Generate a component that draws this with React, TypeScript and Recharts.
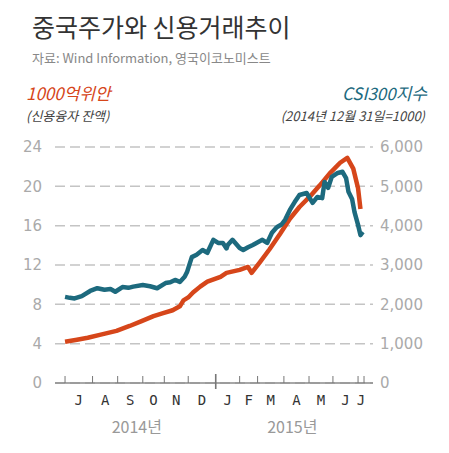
import React from "react";
import { LineChart, Line, XAxis, YAxis, CartesianGrid } from "recharts";

// Trading-day index (0 = 1 Jul 2014) of each month's first trading day
const monthStarts = [0, 23, 44, 65, 83, 103, 126, 146, 161, 183, 204, 224, 245, 250];
const monthLetters = ["J", "A", "S", "O", "N", "D", "J", "F", "M", "A", "M", "J", "J"];
const yearBoundary = 126;
const yearPos = [60, 190];
const yearLabels = ["2014년", "2015년"];

const leftTicks = [0, 4, 8, 12, 16, 20, 24];
const rightTicks = [0, 1000, 2000, 3000, 4000, 5000, 6000];

// Margin lending balance (1000억 위안)
const creditX = [0, 10, 19, 29, 43, 54, 64, 74, 82, 90, 96, 99, 103, 107, 113, 119, 130, 135, 146, 153, 156, 163, 171, 180, 188, 196, 205, 213, 222, 230, 236, 241, 245, 247];
const creditY = [4.2, 4.4, 4.6, 4.9, 5.3, 5.8, 6.3, 6.8, 7.1, 7.4, 7.8, 8.4, 8.7, 9.2, 9.8, 10.3, 10.8, 11.2, 11.5, 11.8, 11.2, 12.3, 13.6, 15.2, 16.7, 17.9, 19.0, 20.1, 21.4, 22.4, 22.9, 21.8, 19.8, 17.7];

// CSI300 index (2014-12-31 = 1000 basis as labelled)
const csiX = [0, 4, 8, 14, 21, 27, 33, 38, 42, 48, 53, 57, 65, 71, 77, 84, 88, 92, 96, 100, 102, 106, 110, 115, 119, 124, 128, 132, 135, 136, 140, 146, 149, 153, 157, 165, 169, 173, 177, 181, 184, 188, 192, 196, 202, 207, 211, 215, 217, 220, 223, 228, 232, 235, 237, 240, 242, 245, 247, 249];
const csiY = [2190, 2165, 2150, 2210, 2340, 2410, 2370, 2390, 2320, 2440, 2420, 2450, 2490, 2460, 2410, 2540, 2560, 2620, 2570, 2700, 2820, 3200, 3260, 3380, 3310, 3640, 3560, 3560, 3420, 3510, 3640, 3430, 3380, 3450, 3510, 3640, 3560, 3820, 3960, 4030, 4150, 4400, 4600, 4780, 4830, 4580, 4730, 4700, 5110, 4960, 5240, 5340, 5370, 5210, 4860, 4680, 4350, 4020, 3760, 3840];

const creditData = creditX.map((x, i) => ({ x, v: creditY[i] }));
const csiData = csiX.map((x, i) => ({ x, v: csiY[i] }));

const monthMids = monthLetters.map((_, i) => (monthStarts[i] + monthStarts[i + 1]) / 2);

type TickInfo = { kind: "tick" | "month" | "year"; text?: string; big?: boolean };
const tickInfo = new Map<number, TickInfo>();
monthStarts.forEach((v) => tickInfo.set(v, { kind: "tick", big: v === yearBoundary }));
monthMids.forEach((v, i) => tickInfo.set(v, { kind: "month", text: monthLetters[i] }));
yearPos.forEach((v, i) => tickInfo.set(v, { kind: "year", text: yearLabels[i] }));
const allTicks = [...monthStarts, ...monthMids, ...yearPos].sort((a, b) => a - b);

const RED = "#d6461a";
const TEAL = "#1d6a7e";
const KR = "'Noto Sans CJK KR', 'Noto Sans', sans-serif";

function AxisTick(props: any) {
  const { x, y, payload } = props;
  const info = tickInfo.get(payload.value);
  if (!info) return null;
  if (info.kind === "tick") {
    return info.big ? (
      <line x1={x} x2={x} y1={y - 9} y2={y + 6} stroke="#777" strokeWidth={1.6} />
    ) : (
      <line x1={x} x2={x} y1={y - 7} y2={y} stroke="#777" strokeWidth={1} />
    );
  }
  if (info.kind === "month") {
    return (
      <text x={x} y={y + 22} textAnchor="middle" fontSize={14} fill="#333" fontFamily="'DejaVu Sans Mono', monospace">
        {info.text}
      </text>
    );
  }
  return (
    <text x={x} y={y + 50} textAnchor="middle" fontSize={16} fill="#999" fontFamily={KR}>
      {info.text}
    </text>
  );
}

const fmt = (v: number) => v.toLocaleString("en-US");

export default function App() {
  return (
    <div style={{ position: "relative", width: 441, height: 437 }}>
      <svg width={441} height={140} style={{ position: "absolute", left: 0, top: 0 }}>
        <text x={24} y={29} fontSize={25} fill="#333" fontFamily={KR}>중국주가와 신용거래추이</text>
        <text x={24} y={55} fontSize={13} fill="#888" fontFamily={KR}>자료: Wind Information, 영국이코노미스트</text>
        <text x={18} y={92} fontSize={17} fill={RED} fontStyle="italic" fontFamily={KR}>1000억위안</text>
        <text x={18} y={113} fontSize={13} fill="#444" fontStyle="italic" fontFamily={KR}>(신용융자 잔액)</text>
        <text x={419} y={92} fontSize={17} fill={TEAL} fontStyle="italic" textAnchor="end" fontFamily={KR}>CSI300지수</text>
        <text x={417} y={113} fontSize={13} fill="#444" fontStyle="italic" textAnchor="end" fontFamily={KR}>(2014년 12월 31일=1000)</text>
      </svg>
      <LineChart width={441} height={437} margin={{ top: 139, right: 0, bottom: 12, left: 0 }}>
        <CartesianGrid yAxisId="left" vertical={false} stroke="#c4c4c4" strokeDasharray="10 5" strokeWidth={1.5} />
        <XAxis
          dataKey="x"
          type="number"
          domain={[-8.4, 257.5]}
          allowDataOverflow
          ticks={allTicks}
          interval={0}
          tick={<AxisTick />}
          tickLine={false}
          tickSize={0}
          tickMargin={0}
          height={50}
          axisLine={{ stroke: "#8a8a8a", strokeWidth: 1.5 }}
        />
        <YAxis
          yAxisId="left"
          orientation="left"
          domain={[0, 24]}
          ticks={leftTicks}
          width={47}
          axisLine={false}
          tickLine={false}
          tickSize={0}
          tickMargin={13}
          tick={{ fontSize: 15, fill: "#aaa", fontFamily: "'DejaVu Sans', sans-serif" }}
        />
        <YAxis
          yAxisId="right"
          orientation="right"
          domain={[0, 6000]}
          ticks={rightTicks}
          tickFormatter={fmt}
          width={76}
          axisLine={false}
          tickLine={false}
          tickSize={0}
          tickMargin={7}
          tick={{ fontSize: 15, fill: "#aaa", fontFamily: "'DejaVu Sans', sans-serif" }}
        />
        <Line
          yAxisId="left"
          data={creditData}
          dataKey="v"
          type="linear"
          stroke={RED}
          strokeWidth={4.5}
          strokeLinejoin="round"
          dot={false}
          isAnimationActive={false}
        />
        <Line
          yAxisId="right"
          data={csiData}
          dataKey="v"
          type="linear"
          stroke={TEAL}
          strokeWidth={4.5}
          strokeLinejoin="round"
          dot={false}
          isAnimationActive={false}
        />
      </LineChart>
    </div>
  );
}
